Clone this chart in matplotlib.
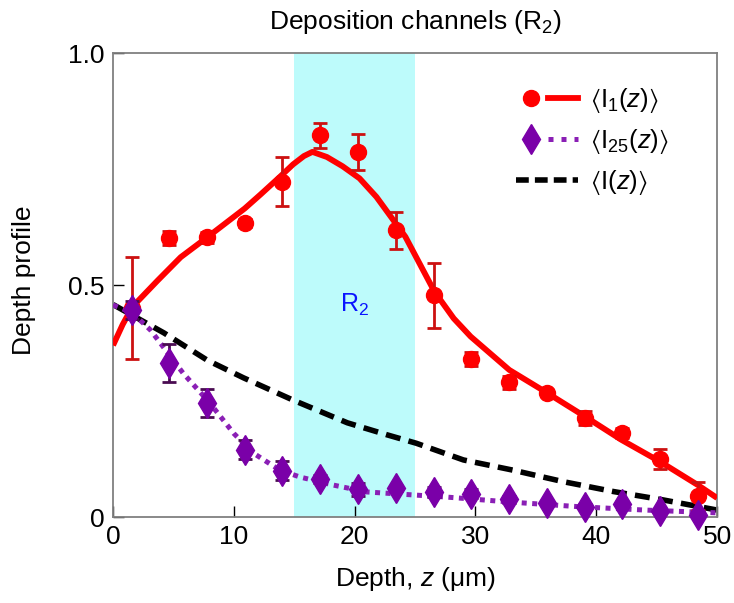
import matplotlib
matplotlib.use("Agg")
import matplotlib.pyplot as plt
from matplotlib.lines import Line2D
from matplotlib.legend_handler import HandlerTuple

# ---- data -------------------------------------------------------------
depth_pts = [1.6, 4.6, 7.8, 10.9, 14.0, 17.1, 20.3, 23.4, 26.6, 29.6, 32.8, 35.9, 39.1, 42.1, 45.3, 48.4]
i1_pts = [0.45, 0.601, 0.603, 0.634, 0.723, 0.823, 0.787, 0.618, 0.478, 0.34, 0.29, 0.267, 0.213, 0.181, 0.125, 0.045]
i1_err = [0.11, 0.015, 0.012, 0.008, 0.052, 0.027, 0.038, 0.04, 0.07, 0.015, 0.015, 0.005, 0.015, 0.01, 0.022, 0.03]
i25_pts = [0.446, 0.332, 0.246, 0.145, 0.10, 0.082, 0.06, 0.062, 0.054, 0.05, 0.038, 0.03, 0.022, 0.028, 0.013, 0.005]
i25_err = [0.02, 0.04, 0.03, 0.02, 0.02, 0.008, 0.014, 0.005, 0.01, 0.01, 0.008, 0.005, 0.005, 0.005, 0.005, 0.005]

i1_z = [0, 0.8, 1.6, 3.7, 5.6, 7.8, 9.4, 10.9, 12.2, 13.8, 14.9, 15.8, 16.5, 17.7, 19.0, 20.4, 21.8,
        23.2, 24.2, 25.4, 26.6, 28.2, 29.6, 32.8, 35.9, 39.1, 42.1, 45.3, 48.4, 50.0]
i1_curve = [0.37, 0.415, 0.453, 0.51, 0.56, 0.603, 0.635, 0.665, 0.695, 0.733, 0.76, 0.778, 0.787,
            0.776, 0.756, 0.73, 0.69, 0.64, 0.604, 0.545, 0.486, 0.428, 0.389, 0.317, 0.268,
            0.216, 0.166, 0.119, 0.069, 0.041]

i25_z = [0, 1.6, 3.1, 5.8, 8.0, 10.0, 11.6, 13.8, 15.5, 18.2, 21.0, 25.2, 27.6, 33.0, 38.7, 44.0, 50.0]
i25_curve = [0.457, 0.44, 0.403, 0.31, 0.246, 0.18, 0.138, 0.101, 0.086, 0.069, 0.054, 0.047, 0.043,
             0.032, 0.022, 0.015, 0.009]

mean_z = [0, 4.2, 7.8, 10.8, 14.9, 19.4, 22.7, 25.1, 29.0, 33.1, 37.3, 41.4, 45.5, 50.0]
mean_curve = [0.458, 0.397, 0.338, 0.30, 0.252, 0.203, 0.177, 0.159, 0.123, 0.101, 0.076, 0.055,
              0.037, 0.015]

channel_span = (15, 25)
xticks = [0, 10, 20, 30, 40, 50]
yticks = [0, 0.5, 1.0]
ytick_labels = ["0", "0.5", "1.0"]
legend_labels = [r"$\langle\mathrm{I}_1(z)\rangle$",
                 r"$\langle\mathrm{I}_{25}(z)\rangle$",
                 r"$\langle\mathrm{I}(z)\rangle$"]

# ---- style ------------------------------------------------------------
plt.rcParams["font.family"] = ["Liberation Sans", "DejaVu Sans"]
plt.rcParams["mathtext.fontset"] = "custom"
plt.rcParams["mathtext.rm"] = "Liberation Sans"
plt.rcParams["mathtext.it"] = "Liberation Sans:italic"
plt.rcParams["mathtext.bf"] = "Liberation Sans:bold"
plt.rcParams["mathtext.fallback"] = "stixsans"
FS = 19

RED = "#ff0000"
RED_ERR = "#cc1111"
PURPLE = "#7a00a8"
PURPLE_LINE = "#8a1fb5"
PURPLE_ERR = "#4a0c52"

fig = plt.figure(figsize=(7.34, 6.03), dpi=100)
ax = fig.add_axes([0.154, 0.1426, 0.823, 0.7694])

ax.axvspan(*channel_span, color="#bdfbfb", lw=0, zorder=0)
ax.text(20, 0.457, r"R$_2$", color="#0a14ff", fontsize=18, ha="center", va="center")

ax.plot(mean_z, mean_curve, color="black", lw=4, ls=(0, (2.7, 1.5)), zorder=2)
ax.plot(i25_z, i25_curve, color=PURPLE_LINE, lw=3.6, ls=(0, (1, 1.1)), zorder=3)
ax.plot(i1_z, i1_curve, color=RED, lw=4.2, zorder=4, solid_capstyle="butt")

ax.errorbar(depth_pts, i1_pts, yerr=i1_err, fmt="o", color=RED, ms=11.5,
            ecolor=RED_ERR, elinewidth=2, capsize=5, capthick=2, zorder=5, clip_on=False)
ax.errorbar(depth_pts, i25_pts, yerr=i25_err, fmt="d", color=PURPLE, ms=15,
            ecolor=PURPLE_ERR, elinewidth=2, capsize=5, capthick=2, zorder=6, clip_on=False)

ax.set_xlim(0, 50)
ax.set_ylim(0, 1.0)
ax.set_xticks(xticks)
ax.set_yticks(yticks)
ax.set_yticklabels(ytick_labels)
ax.tick_params(direction="in", length=8, width=1, labelsize=FS, pad=6,
               top=False, right=False)
for sp in ax.spines.values():
    sp.set_color("#808080")
    sp.set_linewidth(1.3)

ax.set_xlabel(r"Depth, $z$ ($\mathregular{\mu}$m)", fontsize=FS, labelpad=11)
ax.set_ylabel("Depth profile", fontsize=FS)
ax.yaxis.set_label_coords(-0.128, 0.51)
ax.set_title(r"Deposition channels (R$_2$)", fontsize=FS, pad=17)

# legend: marker followed by a line segment
h1 = (Line2D([], [], ls="none", marker="o", color=RED, ms=11.5),
      Line2D([], [], color=RED, lw=4.2))
h2 = (Line2D([], [], ls="none", marker="d", color=PURPLE, ms=15),
      Line2D([], [], color=PURPLE_LINE, lw=3.6, ls=(0, (1, 1.6))))
h3 = Line2D([], [], color="black", lw=4, ls=(0, (2.3, 1.1)))
leg = ax.legend([h1, h2, h3], legend_labels,
                handler_map={tuple: HandlerTuple(ndivide=None, pad=0.1)},
                loc="upper left", bbox_to_anchor=(0.667, 0.928), borderaxespad=0,
                borderpad=0, frameon=False, fontsize=18.5, handlelength=2.4,
                handletextpad=0.5, labelspacing=0.45)

fig.savefig("out.png", dpi=100)
